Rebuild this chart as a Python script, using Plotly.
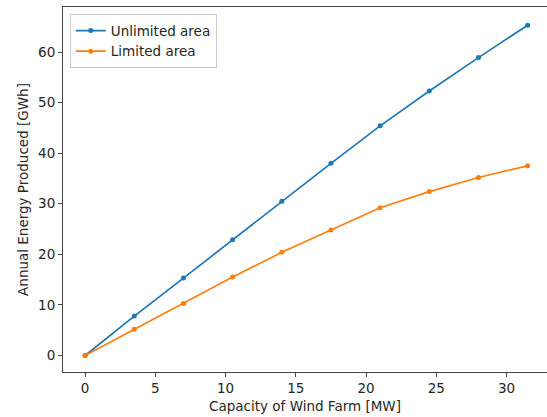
import plotly.graph_objects as go

capacity_mw = [0, 3.5, 7, 10.5, 14, 17.5, 21, 24.5, 28, 31.5]
unlimited_gwh = [0, 7.8, 15.3, 22.9, 30.5, 38.0, 45.4, 52.3, 58.9, 65.3]
limited_gwh = [0, 5.2, 10.3, 15.5, 20.4, 24.8, 29.2, 32.4, 35.2, 37.5]
series_names = ["Unlimited area", "Limited area"]
x_ticks = [0, 5, 10, 15, 20, 25, 30]
y_ticks = [0, 10, 20, 30, 40, 50, 60]

font = dict(family="DejaVu Sans", size=13.5, color="#262626")

fig = go.Figure()
for name, vals, col in [(series_names[0], unlimited_gwh, "#1f77b4"),
                        (series_names[1], limited_gwh, "#ff7f0e")]:
    fig.add_trace(go.Scatter(x=capacity_mw, y=vals, name=name, mode="lines+markers",
                             line=dict(color=col, width=1.7),
                             marker=dict(color=col, size=5)))

axis_common = dict(showgrid=False, zeroline=False, showline=True, linecolor="#444",
                   linewidth=1, ticks="outside", ticklen=4, tickcolor="#444",
                   tickfont=font)
fig.update_layout(
    width=547, height=417,
    margin=dict(l=63, r=0, t=7, b=45),
    plot_bgcolor="white", paper_bgcolor="white",
    font=font,
    showlegend=True,
    legend=dict(x=0.014, y=0.98, xanchor="left", yanchor="top",
                bordercolor="#cccccc", borderwidth=1, bgcolor="rgba(255,255,255,0.8)",
                font=font, itemwidth=30, tracegroupgap=0),
    xaxis=dict(range=[-1.575, 32.88], tickvals=x_ticks, mirror=True,
               title=dict(text="Capacity of Wind Farm [MW]", font=font, standoff=6),
               **axis_common),
    yaxis=dict(range=[-3.26, 68.9], tickvals=y_ticks, mirror=False,
               title=dict(text="Annual Energy Produced [GWh]", font=font, standoff=6),
               **axis_common),
)
fig.write_html("out.html")
